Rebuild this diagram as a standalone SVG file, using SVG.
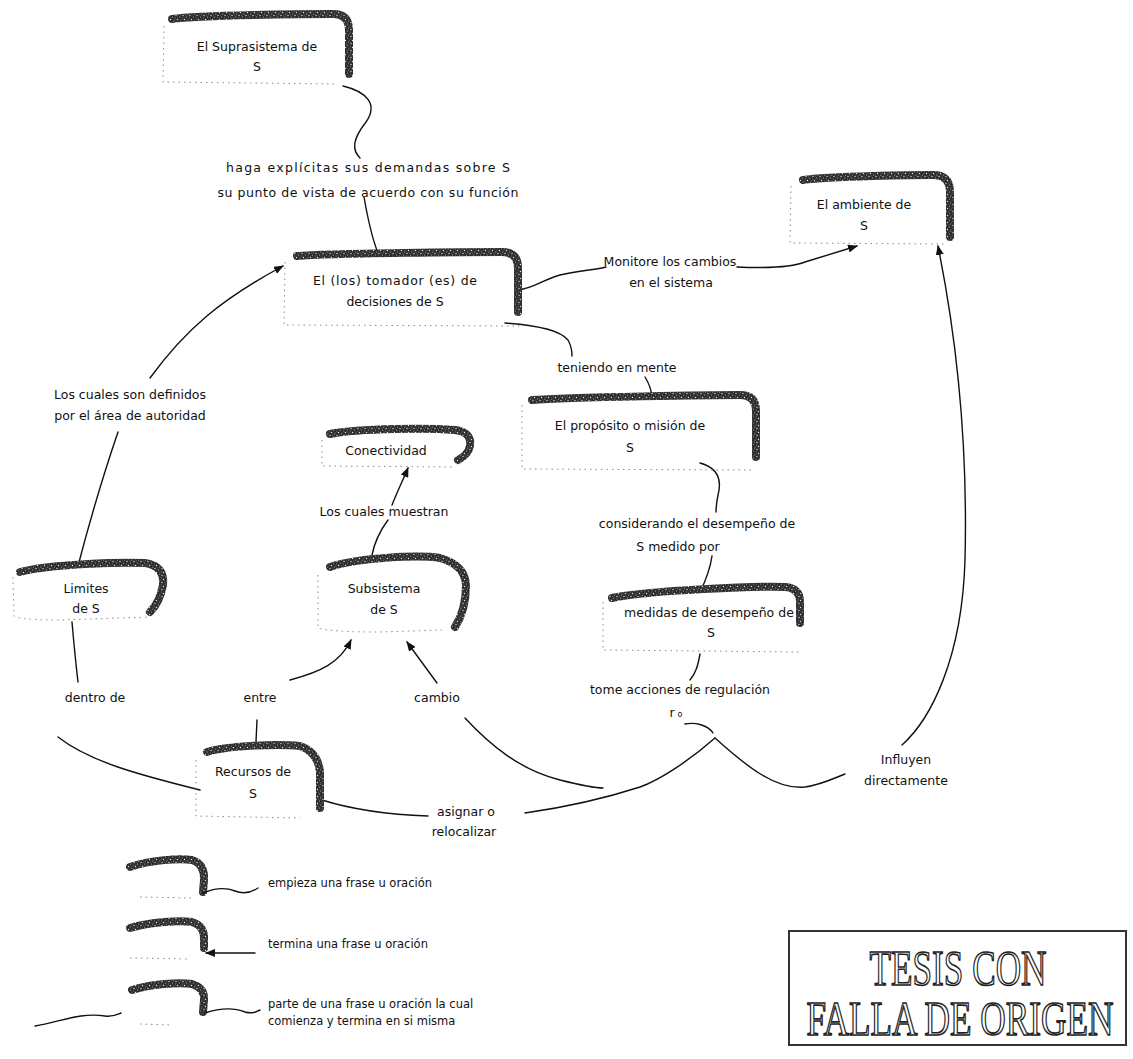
<svg xmlns="http://www.w3.org/2000/svg" width="1133" height="1059" viewBox="0 0 1133 1059">
  <defs>
    <!-- speckled dark texture used for the node "shadow" bands -->
    <pattern id="grain" width="7" height="7" patternUnits="userSpaceOnUse">
      <rect width="7" height="7" fill="#2e2e2e"/>
      <circle cx="1" cy="1.5" r="0.7" fill="#d6d6d6"/>
      <circle cx="4.5" cy="3" r="0.6" fill="#b0b0b0"/>
      <circle cx="2.5" cy="5.5" r="0.7" fill="#e6e6e6"/>
      <circle cx="6" cy="6" r="0.5" fill="#9a9a9a"/>
      <circle cx="5.5" cy="0.5" r="0.4" fill="#c4c4c4"/>
      <circle cx="3.5" cy="1" r="0.4" fill="#8c8c8c"/>
      <circle cx="0.5" cy="4" r="0.45" fill="#bbbbbb"/>
    </pattern>
    <marker id="arrow" viewBox="0 0 10 8" refX="9" refY="4" markerWidth="10" markerHeight="8" markerUnits="userSpaceOnUse" orient="auto">
      <path d="M0 0 L10 4 L0 8 Z" fill="#111"/>
    </marker>
    <style>
      .band { fill: none; stroke: url(#grain); stroke-width: 8; stroke-linecap: round; stroke-linejoin: round; }
      .edge { fill: none; stroke: #8a8a8a; stroke-width: 1; stroke-dasharray: 1.5 4; }
      .lbl  { font-family: "DejaVu Sans", "Liberation Sans", sans-serif; font-size: 12.5px; fill: #111; text-anchor: middle; }
      .leg  { font-family: "DejaVu Sans", "Liberation Sans", sans-serif; font-size: 11.5px; fill: #111; }
      .con  { fill: none; stroke: #111; stroke-width: 1.4; stroke-linecap: round; }
      .stamp { font-family: "Liberation Serif", "DejaVu Serif", serif; fill: #fff; stroke: #222; stroke-width: 1.6; text-anchor: middle; }
    </style>
  </defs>

  <rect width="1133" height="1059" fill="#fff"/>

  <!-- connectors -->
  <g id="connectors">
    <!-- suprasistema -> tomador -->
    <path class="con" d="M343 86 C368 92 378 105 366 122 C352 140 352 150 360 158"/>
    <path class="con" d="M364 197 C368 220 372 238 378 253"/>
    <!-- tomador -> ambiente -->
    <path class="con" d="M518 290 C535 288 542 280 560 275 C580 270 595 270 606 267"/>
    <path class="con" marker-end="url(#arrow)" d="M737 267 C760 268 790 268 805 262 L857 246"/>
    <!-- tomador -> proposito -->
    <path class="con" d="M505 323 C535 325 560 330 568 340 C572 347 572 352 572 356"/>
    <path class="con" d="M645 377 C650 385 652 392 652 399"/>
    <!-- proposito -> medidas -->
    <path class="con" d="M700 463 C718 468 722 480 718 495 C716 505 716 508 716 512"/>
    <path class="con" d="M712 556 C710 570 705 582 700 592"/>
    <!-- medidas -> regulacion -->
    <path class="con" d="M700 654 C698 665 696 673 690 680"/>
    <path class="con" d="M685 724 C695 722 708 725 713 733"/>
    <path class="con" d="M715 738 C690 760 660 780 640 787 C600 800 560 808 525 813"/>
    <path class="con" d="M715 738 C745 765 775 790 805 787 C820 785 830 780 845 774"/>
    <!-- influyen -> ambiente -->
    <path class="con" marker-end="url(#arrow)" d="M902 745 C930 720 962 660 965 560 C968 440 955 330 938 246"/>
    <!-- cambio -->
    <path class="con" marker-end="url(#arrow)" d="M437 683 L407 642"/>
    <path class="con" d="M465 718 C490 745 520 770 560 780 C580 785 595 788 603 788"/>
    <!-- recursos -> asignar -->
    <path class="con" d="M322 800 C360 812 400 815 428 816"/>
    <!-- recursos -> subsistema (entre) -->
    <path class="con" d="M257 720 L256 742"/>
    <path class="con" marker-end="url(#arrow)" d="M290 680 C320 672 340 663 351 640"/>
    <!-- limites -> recursos (dentro de) -->
    <path class="con" d="M72 622 C74 645 76 665 78 682"/>
    <path class="con" d="M58 737 C90 762 140 775 200 790"/>
    <!-- limites -> tomador -->
    <path class="con" d="M78 566 C90 520 105 470 118 432"/>
    <path class="con" marker-end="url(#arrow)" d="M150 378 C185 330 220 300 283 266"/>
    <!-- subsistema -> conectividad -->
    <path class="con" d="M372 555 C375 540 382 528 388 520"/>
    <path class="con" marker-end="url(#arrow)" d="M392 505 C398 490 403 480 408 468"/>
  </g>

  <!-- nodes -->
  <g id="suprasistema">
    <path class="edge" d="M164 26 L163 82 L336 84"/>
    <path class="band" d="M172 19 C200 15 310 14 333 14 Q349 14 349 30 L349 74"/>
    <text class="lbl" x="257" y="51">El Suprasistema de</text>
    <text class="lbl" x="257" y="71">S</text>
  </g>

  <g id="ambiente">
    <path class="edge" d="M791 186 L790 243 L944 244"/>
    <path class="band" d="M803 180 C830 176 920 175 933 175 Q950 175 950 192 L950 237"/>
    <text class="lbl" x="864" y="209">El ambiente de</text>
    <text class="lbl" x="864" y="230">S</text>
  </g>

  <g id="tomador">
    <path class="edge" d="M285 262 L284 325 L520 326"/>
    <path class="band" d="M297 256 C330 253 480 252 502 252 Q518 252 518 268 L518 312"/>
    <text class="lbl" x="395" y="285" textLength="164" lengthAdjust="spacing">El (los) tomador (es) de</text>
    <text class="lbl" x="395" y="306">decisiones de S</text>
  </g>

  <g id="proposito">
    <path class="edge" d="M522 405 L522 469 L752 470"/>
    <path class="band" d="M532 400 C570 397 720 395 740 395 Q756 395 756 411 L756 457"/>
    <text class="lbl" x="630" y="430">El propósito o misión de</text>
    <text class="lbl" x="630" y="452">S</text>
  </g>

  <g id="conectividad">
    <path class="edge" d="M322 440 L322 466 L455 467"/>
    <path class="band" d="M330 434 C360 428 430 428 455 430 Q472 432 470 446 Q468 455 458 460"/>
    <text class="lbl" x="386" y="455">Conectividad</text>
  </g>

  <g id="limites">
    <path class="edge" d="M13 577 L14 616 Q20 620 60 620 L150 617"/>
    <path class="band" d="M20 572 C50 564 120 562 145 563 Q165 566 163 585 Q160 602 150 612"/>
    <text class="lbl" x="86" y="593">Limites</text>
    <text class="lbl" x="86" y="613">de S</text>
  </g>

  <g id="subsistema">
    <path class="edge" d="M318 575 L318 628 Q330 632 380 632 L442 630"/>
    <path class="band" d="M330 567 C360 557 420 555 440 558 Q465 565 466 585 Q466 610 455 627"/>
    <text class="lbl" x="384" y="593">Subsistema</text>
    <text class="lbl" x="384" y="614">de S</text>
  </g>

  <g id="medidas">
    <path class="edge" d="M603 602 L603 650 L800 652"/>
    <path class="band" d="M612 598 C650 590 760 586 785 587 Q800 588 800 602 L800 623"/>
    <text class="lbl" x="709" y="617">medidas de desempeño de</text>
    <text class="lbl" x="711" y="637">S</text>
  </g>

  <g id="recursos">
    <path class="edge" d="M196 760 L196 816 L300 818"/>
    <path class="band" d="M207 752 C230 745 280 744 300 746 Q318 752 320 772 L320 808"/>
    <text class="lbl" x="253" y="776">Recursos de</text>
    <text class="lbl" x="253" y="798">S</text>
  </g>

  <!-- link phrases -->
  <g id="frases">
    <text class="lbl" x="368" y="172" textLength="284" lengthAdjust="spacing">haga explícitas sus demandas sobre S</text>
    <text class="lbl" x="368" y="197" textLength="301" lengthAdjust="spacing">su punto de vista de acuerdo con su función</text>
    <text class="lbl" x="670" y="266">Monitore los cambios</text>
    <text class="lbl" x="671" y="287">en el sistema</text>
    <text class="lbl" x="617" y="372">teniendo en mente</text>
    <text class="lbl" x="130" y="399">Los cuales son definidos</text>
    <text class="lbl" x="130" y="420">por el área de autoridad</text>
    <text class="lbl" x="384" y="516">Los cuales muestran</text>
    <text class="lbl" x="697" y="528">considerando el desempeño de</text>
    <text class="lbl" x="678" y="551">S medido por</text>
    <text class="lbl" x="680" y="694">tome acciones de regulación</text>
    <text class="lbl" x="676" y="717">r<tspan font-size="8" dx="3">o</tspan></text>
    <text class="lbl" x="95" y="702">dentro de</text>
    <text class="lbl" x="260" y="702">entre</text>
    <text class="lbl" x="437" y="702">cambio</text>
    <text class="lbl" x="906" y="764">Influyen</text>
    <text class="lbl" x="906" y="785">directamente</text>
    <text class="lbl" x="466" y="816">asignar o</text>
    <text class="lbl" x="464" y="836">relocalizar</text>
  </g>

  <!-- key -->
  <g id="leyenda">
    <g id="leyenda-empieza">
      <path class="edge" d="M140 897 L192 898"/>
      <path class="band" d="M130 867 C150 860 180 858 192 860 Q205 864 204 880 L203 892"/>
      <path class="con" d="M203 893 C215 888 225 887 235 891 C245 895 252 892 258 888"/>
      <text class="leg" x="268" y="887">empieza una frase u oración</text>
    </g>
    <g id="leyenda-termina">
      <path class="edge" d="M130 958 L190 959"/>
      <path class="band" d="M130 928 C150 922 180 920 192 922 Q205 926 204 940 L204 948"/>
      <path class="con" marker-end="url(#arrow)" d="M255 953 L206 953"/>
      <text class="leg" x="268" y="948">termina una frase u oración</text>
    </g>
    <g id="leyenda-parte">
      <path class="edge" d="M140 1024 L170 1025"/>
      <path class="band" d="M132 990 C150 984 180 982 192 984 Q205 988 204 1000 L203 1012"/>
      <path class="con" d="M35 1026 C60 1022 80 1012 105 1016 C112 1017 116 1015 121 1013"/>
      <path class="con" d="M205 1013 C220 1008 235 1008 245 1012 C252 1014 256 1012 260 1010"/>
      <text class="leg" x="268" y="1008">parte de una frase u oración la cual</text>
      <text class="leg" x="268" y="1025">comienza y termina en si misma</text>
    </g>
  </g>

  <!-- stamp: condensed outlined serif lettering inside a frame -->
  <g id="sello">
    <rect x="789" y="931" width="337" height="114" fill="none" stroke="#333" stroke-width="2"/>
    <text class="stamp" transform="translate(958 985) scale(0.69 1)" x="0" y="0" font-size="51">TESIS CON</text>
    <text class="stamp" transform="translate(960 1035) scale(0.72 1)" x="0" y="0" font-size="49">FALLA DE ORIGEN</text>
  </g>
</svg>
